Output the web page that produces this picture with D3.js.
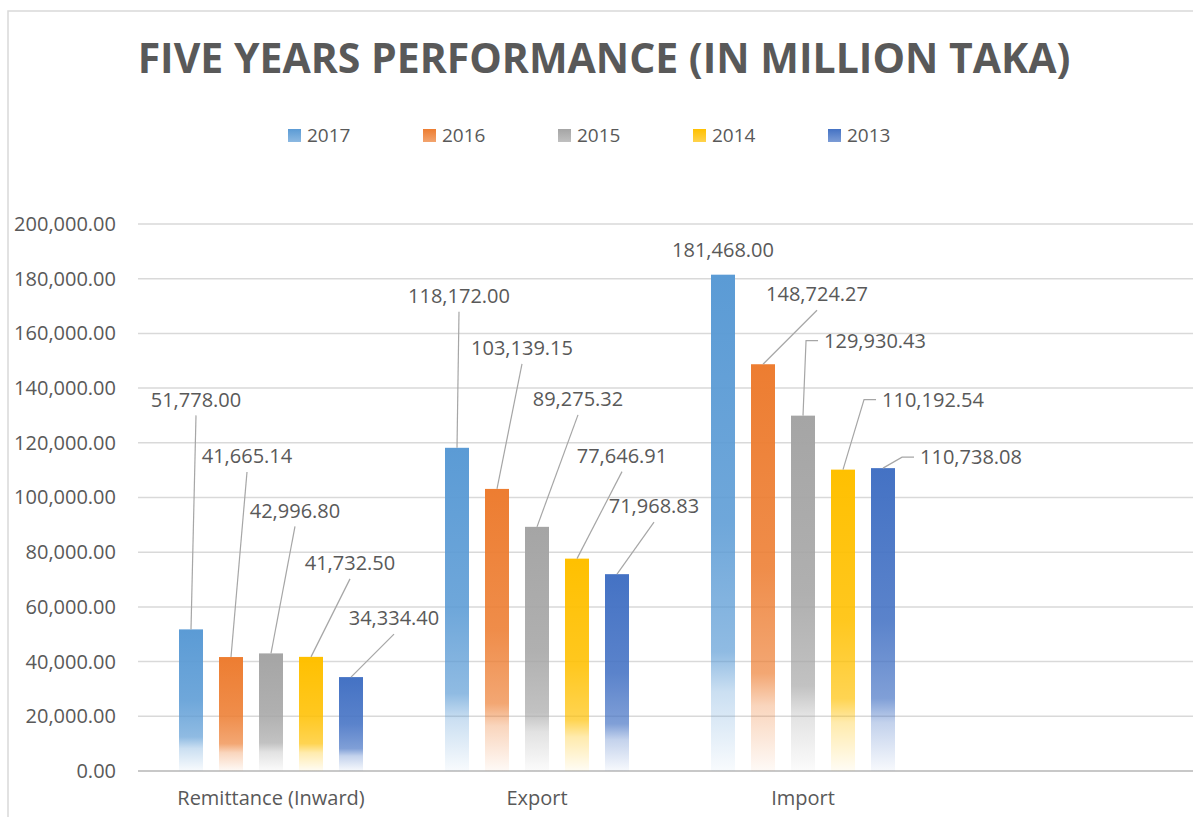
<!DOCTYPE html>
<html>
<head>
<meta charset="utf-8">
<script src="https://cdn.jsdelivr.net/npm/d3@7"></script>
<style>
  html, body { margin: 0; padding: 0; background: #ffffff; }
  svg { display: block; }
  text { font-family: "Open Sans", "Liberation Sans", sans-serif; fill: #595959; }
</style>
</head>
<body>
<svg id="chart" width="1193" height="817"></svg>
<script>
// Five years performance, values in million Taka
const categories = ["Remittance (Inward)", "Export", "Import"];
const years = ["2017", "2016", "2015", "2014", "2013"];
const values2017 = [51778.00, 118172.00, 181468.00];
const values2016 = [41665.14, 103139.15, 148724.27];
const values2015 = [42996.80, 89275.32, 129930.43];
const values2014 = [41732.50, 77646.91, 110192.54];
const values2013 = [34334.40, 71968.83, 110738.08];
const yTicks = [0, 20000, 40000, 60000, 80000, 100000, 120000, 140000, 160000, 180000, 200000];

const seriesValues = [values2017, values2016, values2015, values2014, values2013];
const seriesColors = ["#5B9BD5", "#ED7D31", "#A5A5A5", "#FFC000", "#4472C4"];

// callout placement: label centre offset [dx, dy] in px from the top centre of its bar
const calloutOffsets = [
  [[5, -230], [16, -201], [24, -143], [39, -94], [43, -59]],
  [[2, -152], [25, -141], [41, -128], [45, -103], [37, -68]],
  [[0, -25], [54, -70], [72, -75], [90, -70], [88, -11]]
];

const svg = d3.select("#chart");
const W = 1193, H = 817;
const plot = { left: 138, right: 1202, top: 224, bottom: 771 };

// outer frame of the chart area
svg.append("path")
  .attr("d", `M8,${H + 5} L8,11 L${W + 5},11`)
  .attr("fill", "none").attr("stroke", "#d9d9d9").attr("stroke-width", 1.5);

const y = d3.scaleLinear().domain([0, 200000]).range([plot.bottom, plot.top]);
const x0 = d3.scaleBand().domain(categories).range([plot.left, plot.left + 266 * categories.length]).padding(0);
const x1 = d3.scaleBand().domain(years).range([41, 225]).paddingInner(0.4).paddingOuter(0);

// gradients: solid at the top, fading out toward the baseline
const defs = svg.append("defs");
years.forEach((yr, i) => {
  const g = defs.append("linearGradient").attr("id", "grad" + yr)
    .attr("x1", 0).attr("y1", 0).attr("x2", 0).attr("y2", 1);
  [[0, 1], [0.5, 0.88], [0.76, 0.68], [0.84, 0.32], [1, 0.04]].forEach(([o, a]) => {
    g.append("stop").attr("offset", o).attr("stop-color", seriesColors[i]).attr("stop-opacity", a);
  });
});

// gridlines and value axis
const yAxis = d3.axisLeft(y).tickValues(yTicks).tickSize(0).tickPadding(22)
  .tickFormat(d3.format(",.2f"));
const gGrid = svg.append("g");
gGrid.selectAll("line").data(yTicks).join("line")
  .attr("x1", plot.left).attr("x2", W + 5)
  .attr("y1", d => y(d)).attr("y2", d => y(d))
  .attr("stroke", d => d === 0 ? "#c8c8c8" : "#d9d9d9")
  .attr("stroke-width", d => d === 0 ? 2 : 1.5);

const gy = svg.append("g").attr("transform", `translate(${plot.left},0)`).call(yAxis);
gy.select(".domain").remove();
gy.selectAll("text").attr("font-size", 20).attr("fill", "#595959")
  .style("font-family", '"Open Sans", "Liberation Sans", sans-serif');

// category axis labels
const xAxis = d3.axisBottom(x0).tickSize(0).tickPadding(20);
const gx = svg.append("g").attr("transform", `translate(0,${plot.bottom})`).call(xAxis);
gx.select(".domain").remove();
gx.selectAll("text").attr("font-size", 20).attr("fill", "#595959")
  .style("font-family", '"Open Sans", "Liberation Sans", sans-serif');

// flat records for bars
const records = [];
categories.forEach((c, ci) => {
  years.forEach((yr, si) => {
    records.push({ cat: c, ci, year: yr, si, value: seriesValues[si][ci] });
  });
});

const bars = svg.append("g");
bars.selectAll("rect").data(records).join("rect")
  .attr("x", d => x0(d.cat) + x1(d.year))
  .attr("width", x1.bandwidth())
  .attr("y", d => y(d.value))
  .attr("height", d => y(0) - y(d.value))
  .attr("fill", d => "url(#grad" + d.year + ")");

// data callouts with leader lines
const fmt = d3.format(",.2f");
const gLab = svg.append("g");
const gLead = svg.append("g");
records.forEach(d => {
  const bx = x0(d.cat) + x1(d.year) + x1.bandwidth() / 2;
  const by = y(d.value);
  const [dx, dy] = calloutOffsets[d.ci][d.si];
  const cx = bx + dx, cy = by + dy;
  const t = gLab.append("text")
    .attr("x", cx).attr("y", cy).attr("dy", "0.36em")
    .attr("text-anchor", "middle").attr("font-size", 20)
    .text(fmt(d.value));
  const w = t.node().getComputedTextLength();
  const left = cx - w / 2;
  let pts;
  if (bx < left - 4) {
    // attach to the left side of the label with a short horizontal stub
    pts = [[bx, by], [left - 18, cy], [left - 6, cy]];
  } else {
    pts = [[bx, by], [cx, cy + 16]];
  }
  const len = Math.hypot(pts[1][0] - bx, pts[1][1] - by);
  if (len > 15) {
    gLead.append("path")
      .attr("d", d3.line()(pts))
      .attr("fill", "none").attr("stroke", "#a6a6a6").attr("stroke-width", 1.2);
  }
});

// title
const title = svg.append("text")
  .attr("x", 604).attr("y", 73).attr("text-anchor", "middle")
  .attr("font-size", 40).attr("font-weight", 700)
  .text("FIVE YEARS PERFORMANCE (IN MILLION TAKA)");
const tw = title.node().getComputedTextLength();
title.attr("font-size", 40 * 933 / tw);

// legend
const legend = svg.append("g");
years.forEach((yr, i) => {
  const lx = 288 + i * 135;
  legend.append("rect").attr("x", lx).attr("y", 129).attr("width", 13).attr("height", 13)
    .attr("fill", "url(#lgrad" + yr + ")");
  const lg = defs.append("linearGradient").attr("id", "lgrad" + yr)
    .attr("x1", 0).attr("y1", 0).attr("x2", 0).attr("y2", 1);
  lg.append("stop").attr("offset", 0).attr("stop-color", seriesColors[i]).attr("stop-opacity", 1);
  lg.append("stop").attr("offset", 1).attr("stop-color", seriesColors[i]).attr("stop-opacity", 0.7);
  legend.append("text").attr("x", lx + 19).attr("y", 135).attr("dy", "0.36em")
    .attr("font-size", 19).text(yr);
});
</script>
</body>
</html>
